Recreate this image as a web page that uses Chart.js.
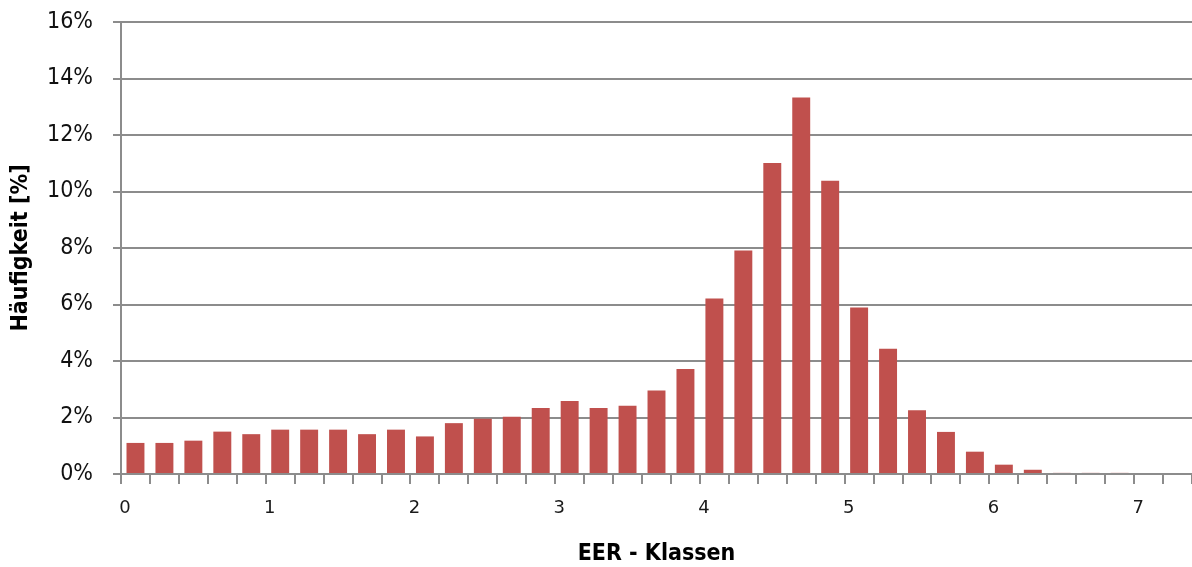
<!DOCTYPE html>
<html>
<head>
<meta charset="utf-8">
<script src="https://cdn.jsdelivr.net/npm/chart.js@4"></script>
<style>
  html, body { margin: 0; padding: 0; background: #fff; }
  #wrap { width: 1192px; height: 567px; position: relative; }
</style>
</head>
<body>
<div id="wrap"><canvas id="chart"></canvas></div>
<script>
// EER class centres (class width 0.2)
const classCenters = [0.1, 0.3, 0.5, 0.7, 0.9, 1.1, 1.3, 1.5, 1.7, 1.9,
  2.1, 2.3, 2.5, 2.7, 2.9, 3.1, 3.3, 3.5, 3.7, 3.9,
  4.1, 4.3, 4.5, 4.7, 4.9, 5.1, 5.3, 5.5, 5.7, 5.9,
  6.1, 6.3, 6.5, 6.7, 6.9, 7.1, 7.3];

// Häufigkeit in %
const frequency = [1.1, 1.1, 1.18, 1.5, 1.41, 1.57, 1.57, 1.57, 1.41, 1.57,
  1.33, 1.8, 1.96, 2.03, 2.34, 2.58, 2.34, 2.42, 2.96, 3.72,
  6.21, 7.91, 11.01, 13.33, 10.38, 5.89, 4.43, 2.26, 1.49, 0.79,
  0.33, 0.15, 0.04, 0.04, 0.04, 0, 0];

const xTickLabels = ["0", "1", "2", "3", "4", "5", "6", "7"];
const yTickLabels = ["0%", "2%", "4%", "6%", "8%", "10%", "12%", "14%", "16%"];

const gridGray = "#8c8c8c";
const narrow = "'DejaVu Sans Condensed', 'Liberation Sans Narrow', sans-serif";

const ctx = document.getElementById("chart").getContext("2d");
new Chart(ctx, {
  type: "bar",
  data: {
    datasets: [{
      label: "Häufigkeit",
      data: classCenters.map((x, i) => ({ x: x, y: frequency[i] })),
      backgroundColor: "#c0504d",
      borderWidth: 0,
      categoryPercentage: 1,
      barPercentage: 0.62
    }]
  },
  options: {
    responsive: true,
    maintainAspectRatio: false,
    animation: false,
    layout: { padding: { top: 22, right: 0, left: 0, bottom: 0 } },
    plugins: { legend: { display: false }, tooltip: { enabled: false } },
    scales: {
      x: {
        type: "linear",
        min: 0,
        max: 7.4,
        offset: false,
        afterFit: s => {
          s.height = 93;
          s.paddingLeft = 0;
          s.paddingRight = 0;
        },
        border: { display: true, color: gridGray, width: 2 },
        grid: { display: true, drawOnChartArea: false, drawTicks: true, tickLength: 10, color: gridGray, lineWidth: 2, offset: false },
        ticks: {
          stepSize: 0.2,
          autoSkip: false,
          maxRotation: 0,
          padding: 14,
          labelOffset: 4,
          color: "#1a1a1a",
          font: { family: "'DejaVu Sans', Verdana, sans-serif", size: 18 },
          callback: v => {
            const r = Math.round(v);
            return Math.abs(v - r) < 1e-6 ? xTickLabels[r] : "";
          }
        },
        title: {
          display: true,
          text: "EER - Klassen",
          color: "#000",
          padding: 0,
          font: { family: narrow, size: 23, weight: "bold", lineHeight: 1.1 }
        }
      },
      y: {
        min: 0,
        max: 16,
        afterFit: s => {
          s.width = 121;
          s.paddingTop = 0;
          s.paddingBottom = 0;
        },
        border: { display: true, color: gridGray, width: 2 },
        grid: { color: gridGray, lineWidth: 2, tickLength: 8 },
        ticks: {
          stepSize: 2,
          padding: 20,
          color: "#111",
          font: { family: narrow, size: 23 },
          callback: v => yTickLabels[Math.round(v / 2)]
        },
        title: {
          display: true,
          text: "Häufigkeit [%]",
          color: "#000",
          padding: { top: 10, bottom: 0 },
          font: { family: narrow, size: 23, weight: "bold", lineHeight: 1 }
        }
      }
    }
  }
});
</script>
</body>
</html>
